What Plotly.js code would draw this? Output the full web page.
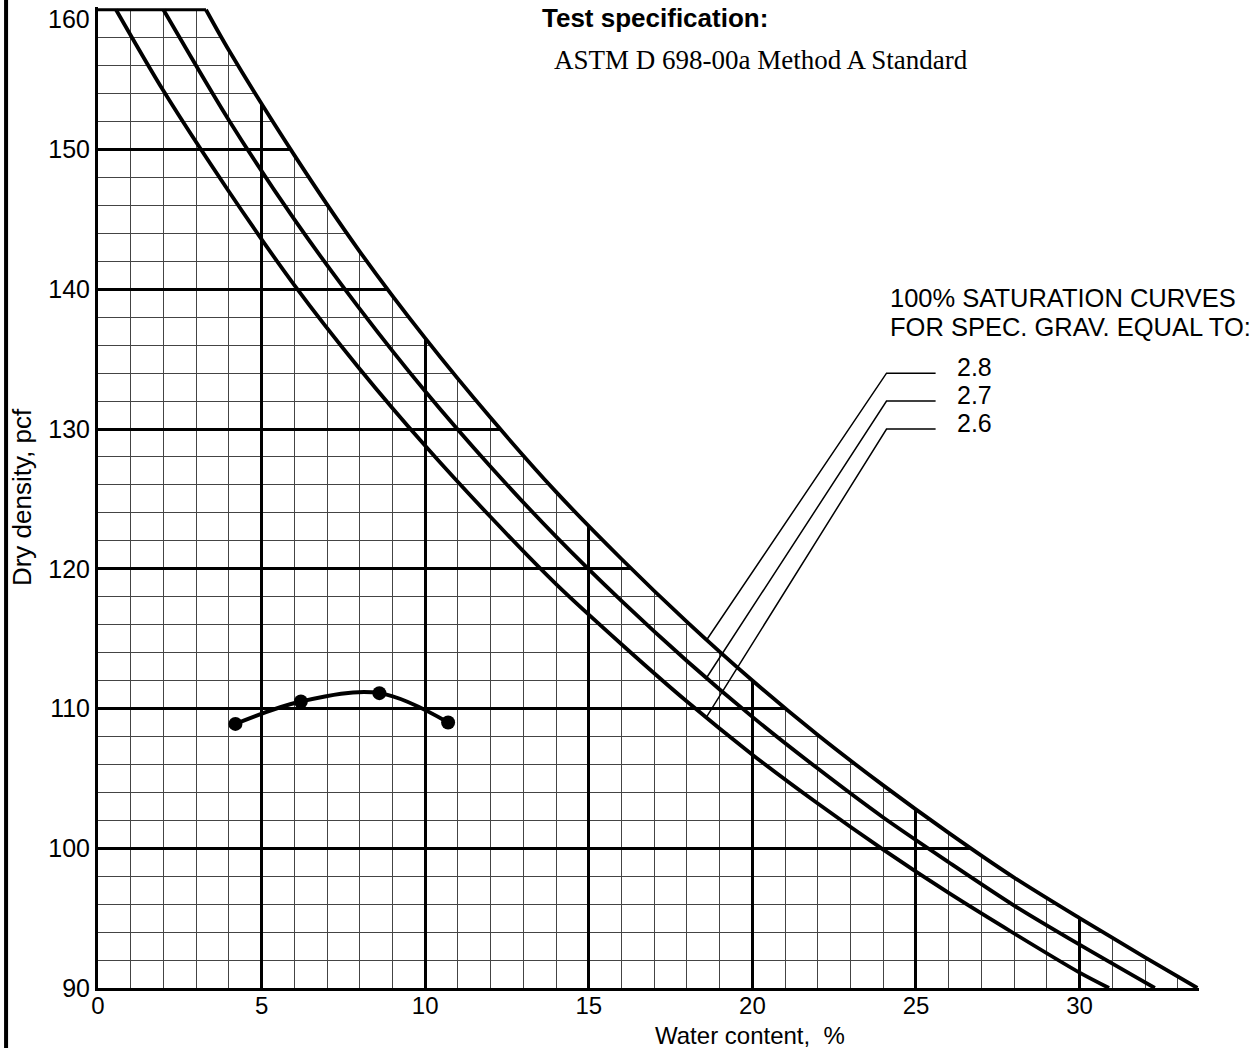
<!DOCTYPE html>
<html>
<head>
<meta charset="utf-8">
<script src="https://cdn.plot.ly/plotly-3.0.1.min.js"></script>
<style>
  html, body { margin: 0; padding: 0; background: #ffffff; }
  #chart { width: 1256px; height: 1048px; }
</style>
</head>
<body>
<div id="chart"></div>
<script>
// ---- Data ----
// 100% saturation (zero-air-voids) curves, water content (%) vs dry density (pcf)
const satW28 = [3.3, 4, 6, 8, 10, 12, 14, 16, 18, 20, 22, 24, 26, 28, 30, 32, 33.6];
const satD28 = [160.0, 157.1, 149.6, 142.7, 136.5, 130.8, 125.5, 120.7, 116.2, 112.0, 108.1, 104.5, 101.1, 97.9, 95.0, 92.2, 90.0];

const satW27 = [2.0, 4, 6, 8, 10, 12, 14, 16, 18, 20, 22, 24, 26, 28, 30, 32.3];
const satD27 = [160.0, 152.1, 145.0, 138.6, 132.7, 127.3, 122.3, 117.7, 113.4, 109.4, 105.7, 102.2, 99.0, 95.9, 93.1, 90.0];

const satW26 = [0.55, 2, 4, 6, 8, 10, 12, 14, 16, 18, 20, 22, 24, 26, 28, 30, 30.9];
const satD26 = [160.0, 154.2, 147.0, 140.3, 134.3, 128.8, 123.7, 118.9, 114.6, 110.5, 106.7, 103.2, 99.9, 96.8, 93.9, 91.1, 90.0];

// Compaction test points
const testWater = [4.2, 6.2, 8.6, 10.7];
const testDensity = [108.9, 110.5, 111.1, 109.0];

// Leader lines for the specific-gravity labels
const gsLabels = ['2.8', '2.7', '2.6'];
const leaderEndW = [18.6, 18.6, 18.6];
const leaderEndD = [114.9, 112.2, 109.4];
const leaderElbowW = 24.1;
const leaderTailW = 25.6;
const leaderLevelD = [134, 132, 130];
const labelW = 26.2;

// Axis extents and ticks
const xMin = 0, xMax = 33.65;
const yMin = 90, yTop = 160, yMax = 160.2;
const xTickVals = [0, 5, 10, 15, 20, 25, 30];
const xTickText = ['0', '5', '10', '15', '20', '25', '30'];
const yTickVals = [90, 100, 110, 120, 130, 140, 150, 160];
const yTickText = ['90', '100', '110', '120', '130', '140', '150', '160'];

// ---- Traces ----
const traces = [];

// White mask above the Gs = 2.8 curve (hides the grid there)
const maskX = satW28.concat([xMax + 3, xMax + 3, xMin - 1, xMin - 1]);
const maskY = satD28.concat([yMin, yMax + 5, yMax + 5, yTop]);
traces.push({
  x: maskX, y: maskY, type: 'scatter', mode: 'lines',
  fill: 'toself', fillcolor: '#ffffff', line: { width: 0, color: '#ffffff' },
  hoverinfo: 'skip'
});

// Top border of the chart (from the axis to the 2.8 curve)
traces.push({
  x: [xMin, satW28[0]], y: [yTop, yTop], type: 'scatter', mode: 'lines',
  line: { color: '#000', width: 3 }, hoverinfo: 'skip'
});

const curveStyle = { color: '#000', width: 3.8, shape: 'spline', smoothing: 0.8 };
traces.push({ x: satW28, y: satD28, type: 'scatter', mode: 'lines', line: curveStyle, name: 'Gs 2.8' });
traces.push({ x: satW27, y: satD27, type: 'scatter', mode: 'lines', line: curveStyle, name: 'Gs 2.7' });
traces.push({ x: satW26, y: satD26, type: 'scatter', mode: 'lines', line: curveStyle, name: 'Gs 2.6' });

// Leader lines
for (let i = 0; i < gsLabels.length; i++) {
  traces.push({
    x: [leaderEndW[i], leaderElbowW, leaderTailW],
    y: [leaderEndD[i], leaderLevelD[i], leaderLevelD[i]],
    type: 'scatter', mode: 'lines', line: { color: '#000', width: 1.5 },
    hoverinfo: 'skip'
  });
}

// Compaction curve
traces.push({
  x: testWater, y: testDensity, type: 'scatter', mode: 'lines+markers',
  line: { color: '#000', width: 4, shape: 'spline', smoothing: 1 },
  marker: { color: '#000', size: 14 },
  cliponaxis: false,
  name: 'Test'
});

// ---- Annotations ----
const sans = 'Liberation Sans, Arial, sans-serif';
const annotations = [
  { xref: 'paper', yref: 'paper', x: 0.4015, y: 0.9888, xanchor: 'left', yanchor: 'middle',
    text: '<b>Test specification:</b>', showarrow: false, font: { family: sans, size: 26, color: '#000' } },
  { xref: 'paper', yref: 'paper', x: 0.4124, y: 0.9460, xanchor: 'left', yanchor: 'middle',
    text: 'ASTM D 698-00a Method A Standard', showarrow: false,
    font: { family: 'Liberation Serif, Times New Roman, serif', size: 27, color: '#000' } },
  { xref: 'paper', yref: 'paper', x: 0.7175, y: 0.7034, xanchor: 'left', yanchor: 'middle',
    text: '100% SATURATION CURVES', showarrow: false, font: { family: sans, size: 25.5, color: '#000' } },
  { xref: 'paper', yref: 'paper', x: 0.7175, y: 0.6738, xanchor: 'left', yanchor: 'middle',
    text: 'FOR SPEC. GRAV. EQUAL TO:', showarrow: false, font: { family: sans, size: 25.5, color: '#000' } },
  { xref: 'paper', yref: 'paper', x: 0.592, y: -0.0485, xanchor: 'center', yanchor: 'middle',
    text: 'Water content,\u00A0 %', showarrow: false, font: { family: sans, size: 24, color: '#000' } },
  // top tick label sits a little below its gridline in the reference
  { xref: 'paper', yref: 'paper', x: -0.0055, y: 0.9875, xanchor: 'right', yanchor: 'middle',
    text: yTickText[yTickText.length - 1], showarrow: false, font: { family: sans, size: 25, color: '#000' } }
];
for (let i = 0; i < gsLabels.length; i++) {
  annotations.push({
    x: labelW, y: leaderLevelD[i] + 0.45, xanchor: 'left', yanchor: 'middle',
    text: gsLabels[i], showarrow: false, font: { family: sans, size: 25, color: '#000' }
  });
}

const axisCommon = {
  showgrid: true, gridcolor: '#000', gridwidth: 3,
  showline: true, linecolor: '#000', linewidth: 3,
  zeroline: false, ticks: '',
  tickfont: { family: sans, size: 25, color: '#000' }
};

const layout = {
  width: 1256, height: 1048,
  margin: { l: 98, r: 57, t: 7, b: 60 },
  paper_bgcolor: '#ffffff', plot_bgcolor: '#ffffff',
  showlegend: false,
  xaxis: Object.assign({}, axisCommon, {
    range: [xMin, xMax], tickmode: 'array', tickvals: xTickVals, ticktext: xTickText,
    ticklabelstandoff: -6,
    tickfont: { family: sans, size: 24, color: '#000' },
    minor: { dtick: 1, tick0: 0, showgrid: true, gridcolor: '#444', gridwidth: 1 }
  }),
  yaxis: Object.assign({}, axisCommon, {
    range: [yMin, yMax], tickmode: 'array', tickvals: yTickVals,
    ticktext: yTickText.slice(0, -1).concat(['']),
    minor: { dtick: 2, tick0: 90, showgrid: true, gridcolor: '#444', gridwidth: 1 },
    title: { text: 'Dry density, pcf', standoff: 10,
      font: { family: sans, size: 26, color: '#000' } }
  }),
  annotations: annotations,
  shapes: [
    { type: 'line', xref: 'paper', yref: 'paper', x0: -0.0835, x1: -0.0835, y0: -0.08, y1: 1.02,
      line: { color: '#000', width: 4 } }
  ]
};

Plotly.newPlot('chart', traces, layout, { displayModeBar: false, staticPlot: true });
</script>
</body>
</html>
